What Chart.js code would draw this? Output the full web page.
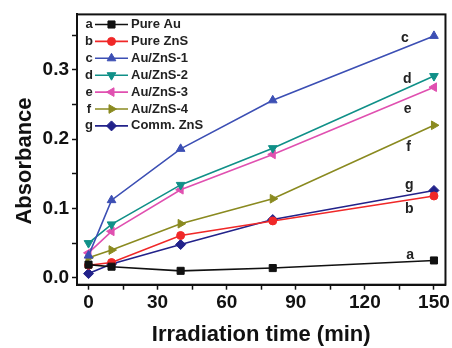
<!DOCTYPE html>
<html><head><meta charset="utf-8">
<script src="https://cdn.jsdelivr.net/npm/chart.js@4.4.1/dist/chart.umd.min.js"></script>
<style>html,body{margin:0;padding:0;background:#fff;} #wrap{width:452px;height:348px;position:relative;}</style>
</head><body><div id="wrap"><canvas id="c" width="452" height="348"></canvas></div>
<script>
const times = [0, 10, 40, 80, 150];
const seriesLetters = ['a', 'b', 'c', 'd', 'e', 'f', 'g'];
const seriesNames = ['Pure Au', 'Pure ZnS', 'Au/ZnS-1', 'Au/ZnS-2', 'Au/ZnS-3', 'Au/ZnS-4', 'Comm. ZnS'];
const pureAu   = [0.019, 0.016, 0.010, 0.014, 0.025];
const pureZnS  = [0.018, 0.022, 0.061, 0.082, 0.118];
const auZnS1   = [0.032, 0.112, 0.186, 0.256, 0.349];
const auZnS2   = [0.050, 0.077, 0.134, 0.187, 0.291];
const auZnS3   = [0.036, 0.067, 0.127, 0.178, 0.275];
const auZnS4   = [0.029, 0.040, 0.078, 0.114, 0.220];
const commZnS  = [0.006, 0.020, 0.048, 0.084, 0.126];
const xTickValues = [0, 15, 30, 45, 60, 75, 90, 105, 120, 135, 150];
const xTickLabels = ['0', '', '30', '', '60', '', '90', '', '120', '', '150'];
const yTickValues = [0, 0.05, 0.1, 0.15, 0.2, 0.25, 0.3, 0.35];
const yTickLabels = ['0.0', '', '0.1', '', '0.2', '', '0.3', ''];
const xTitle = 'Irradiation time (min)';
const yTitle = 'Absorbance';
// in-plot series letters (annotation anchors, in data units)
const letterTimes  = [139.7, 139.3, 137.4, 138.4, 138.6, 139.0, 139.3];
const letterValues = [0.033, 0.099, 0.346, 0.286, 0.244, 0.189, 0.134];

const allSeries = [pureAu, pureZnS, auZnS1, auZnS2, auZnS3, auZnS4, commZnS];
const colors = ['#111111', '#f02828', '#3c4fb4', '#109088', '#e050b0', '#8a8a20', '#22228a'];
const styles = ['rect', 'circle', 'triangle', 'triangle', 'triangle', 'triangle', 'rectRot'];
const rotations = [0, 0, 0, 180, -90, 90, 0];
const radii = [5, 4, 5, 5, 5, 5, 5];
const FONT = '"Liberation Sans", Arial, Helvetica, sans-serif';

const datasets = allSeries.map((vals, i) => ({
  label: seriesNames[i],
  data: times.map((t, k) => ({ x: t, y: vals[k] })),
  borderColor: colors[i],
  backgroundColor: colors[i],
  pointBackgroundColor: colors[i],
  pointBorderColor: colors[i],
  pointStyle: styles[i],
  pointRotation: rotations[i],
  pointRadius: radii[i],
  pointBorderWidth: 1,
  borderWidth: 1.6,
  tension: 0,
  fill: false
}));

const framePlugin = {
  id: 'frame',
  afterDraw(chart) {
    const { ctx, chartArea: a } = chart;
    ctx.save();
    ctx.strokeStyle = '#111';
    ctx.lineWidth = 2;
    ctx.strokeRect(a.left, a.top, a.right - a.left, a.bottom - a.top);
    // y axis title (drawn slightly below plot centre, as in the reference)
    ctx.font = 'bold 22px ' + FONT;
    ctx.fillStyle = '#111';
    ctx.textAlign = 'center';
    ctx.textBaseline = 'middle';
    ctx.translate(25, 161);
    ctx.rotate(-Math.PI / 2);
    ctx.fillText(yTitle, 0, 0);
    ctx.restore();
  }
};

const letterPlugin = {
  id: 'letters',
  afterDatasetsDraw(chart) {
    const { ctx, scales } = chart;
    ctx.save();
    ctx.font = 'bold 14px ' + FONT;
    ctx.fillStyle = '#222';
    ctx.textAlign = 'center';
    ctx.textBaseline = 'middle';
    seriesLetters.forEach((L, i) => {
      ctx.fillText(L, scales.x.getPixelForValue(letterTimes[i]), scales.y.getPixelForValue(letterValues[i]));
    });
    ctx.restore();
  }
};

const legendPlugin = {
  id: 'insideLegend',
  afterDraw(chart) {
    const ctx = chart.ctx;
    ctx.save();
    ctx.font = 'bold 13px ' + FONT;
    ctx.textBaseline = 'middle';
    chart.data.datasets.forEach((ds, i) => {
      const y = 24.5 + i * 16.9;
      ctx.fillStyle = '#222';
      ctx.textAlign = 'center';
      ctx.fillText(seriesLetters[i], 89, y);
      ctx.strokeStyle = ds.borderColor;
      ctx.fillStyle = ds.borderColor;
      ctx.lineWidth = 1.6;
      ctx.beginPath(); ctx.moveTo(95, y); ctx.lineTo(128, y); ctx.stroke();
      ctx.lineWidth = 1;
      Chart.helpers.drawPoint(ctx, { pointStyle: ds.pointStyle, rotation: ds.pointRotation, radius: ds.pointRadius, borderWidth: 1 }, 111.5, y);
      ctx.fillStyle = '#222';
      ctx.textAlign = 'left';
      ctx.fillText(ds.label, 131, y);
    });
    ctx.restore();
  }
};

new Chart(document.getElementById('c'), {
  type: 'line',
  data: { datasets },
  options: {
    responsive: false,
    animation: false,
    devicePixelRatio: 1,
    layout: { padding: { left: 0, top: 10.6, right: 4.5, bottom: 0 } },
    plugins: { legend: { display: false }, tooltip: { enabled: false } },
    scales: {
      x: {
        type: 'linear', min: -5, max: 155,
        afterBuildTicks: s => { s.ticks = xTickValues.map(v => ({ value: v })); },
        afterFit: s => { s.height = 63.3; },
        ticks: { autoSkip: false, maxRotation: 0, padding: 2, color: '#111',
          font: { family: FONT, size: 19, weight: 'bold' },
          callback: (v, i) => xTickLabels[i] },
        grid: { drawOnChartArea: false, drawTicks: true, tickLength: 5, tickWidth: 1.5, tickColor: '#111' },
        border: { display: true, color: '#111', width: 2 },
        title: { display: true, text: xTitle, color: '#111',
          font: { family: FONT, size: 22, weight: 'bold' }, padding: { top: 0, bottom: 0 } }
      },
      y: {
        type: 'linear', min: -0.01, max: 0.38,
        afterBuildTicks: s => { s.ticks = yTickValues.map(v => ({ value: v })); },
        afterFit: s => { s.width = 77; },
        ticks: { autoSkip: false, padding: 3, color: '#111',
          font: { family: FONT, size: 19, weight: 'bold' },
          callback: (v, i) => yTickLabels[i] },
        grid: { drawOnChartArea: false, drawTicks: true, tickLength: 5, tickWidth: 1.5, tickColor: '#111' },
        border: { display: true, color: '#111', width: 2 },
        title: { display: false, text: yTitle }
      }
    }
  },
  plugins: [framePlugin, letterPlugin, legendPlugin]
});
</script>
</body></html>
